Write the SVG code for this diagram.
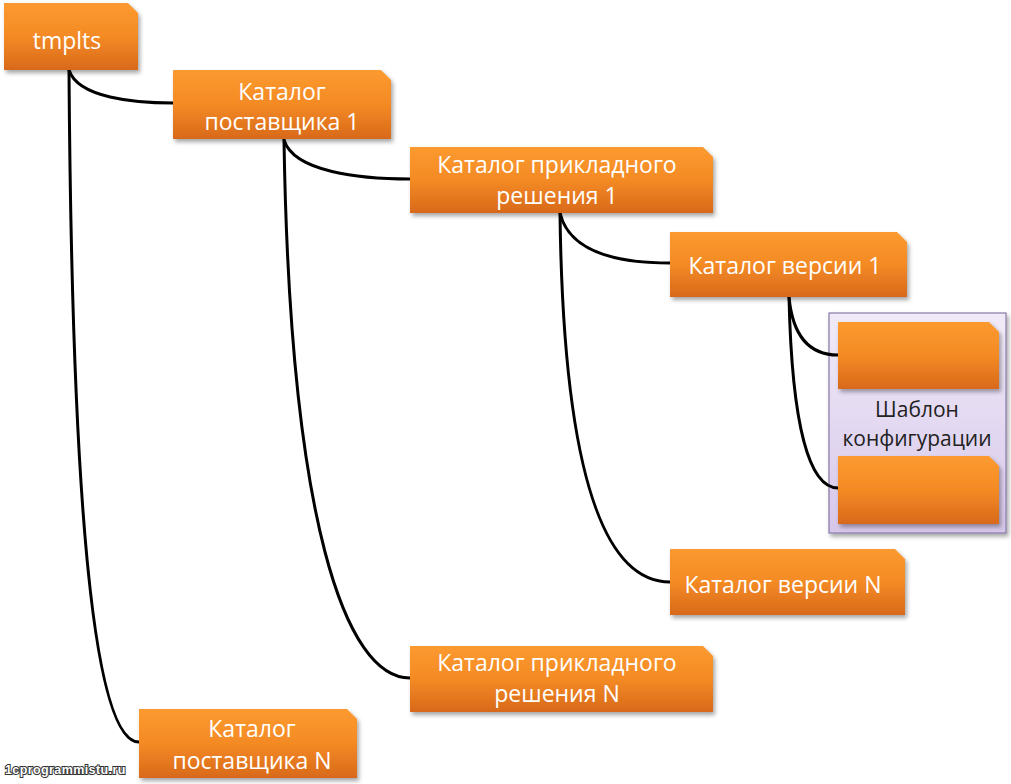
<svg xmlns="http://www.w3.org/2000/svg" width="1011" height="784" viewBox="0 0 1011 784">
<defs>
<linearGradient id="og" x1="0" y1="0" x2="0" y2="1">
<stop offset="0" stop-color="#FC9A30"/>
<stop offset="0.5" stop-color="#F48A24"/>
<stop offset="1" stop-color="#D8691B"/>
</linearGradient>
<linearGradient id="pg" x1="0" y1="0" x2="0" y2="1">
<stop offset="0" stop-color="#F1EBF8"/>
<stop offset="1" stop-color="#D6C7EA"/>
</linearGradient>
<filter id="sh" x="-10%" y="-10%" width="130%" height="140%">
<feDropShadow dx="2" dy="3" stdDeviation="2" flood-color="#000" flood-opacity="0.35"/>
</filter>
</defs>
<style>
.n{fill:url(#og);filter:url(#sh)}
.t{font-family:"Open Sans","Liberation Sans",sans-serif;font-size:23px;fill:#fff;text-anchor:middle}
.d{font-family:"Open Sans","Liberation Sans",sans-serif;font-size:21px;fill:#222;text-anchor:middle}
.c path{fill:none;stroke:#000;stroke-width:3;stroke-linecap:round}
.w{font-family:"Liberation Sans",sans-serif;font-size:12.5px;font-weight:bold;fill:#fff;stroke:#333;stroke-width:2;paint-order:stroke;letter-spacing:0.4px}
</style>
<rect width="1011" height="784" fill="#fff"/>
<g id="template-box">
<rect x="829" y="313" width="177" height="220" fill="url(#pg)" stroke="#8878A8" stroke-width="1.2" filter="url(#sh)"/>
<text x="917" y="417" class="d">Шаблон</text>
<text x="917" y="446" class="d">конфигурации</text>
</g>
<g class="c" id="connectors">
<path d="M69,70 C78,98 135,103 173,103"/>
<path d="M69,70 C72,520 95,742 139,742"/>
<path d="M284,140 C294,172 360,179 410,179"/>
<path d="M284,140 C290,520 345,678 410,678"/>
<path d="M560,213 C570,255 625,263 670,263"/>
<path d="M560,213 C563,460 600,582 670,582"/>
<path d="M789,297 C793,340 812,355 838,355"/>
<path d="M789,297 C792,430 810,488 838,488"/>
</g>
<g id="tmplts">
<path class="n" d="M4,3 H128 L138,13 V70 H4 Z"/>
<text x="67" y="49" class="t">tmplts</text>
</g>
<g id="vendor1">
<path class="n" d="M173,70 H381 L391,80 V139 H173 Z"/>
<text x="282" y="100" class="t">Каталог</text>
<text x="282" y="130" class="t">поставщика 1</text>
</g>
<g id="solution1">
<path class="n" d="M410,147 H703 L713,157 V213 H410 Z"/>
<text x="557" y="173" class="t">Каталог прикладного</text>
<text x="557" y="204" class="t">решения 1</text>
</g>
<g id="version1">
<path class="n" d="M670,232 H897 L907,242 V297 H670 Z"/>
<text x="785" y="274" class="t">Каталог версии 1</text>
</g>
<g id="tpl1">
<path class="n" d="M838,322 H989 L999,332 V389 H838 Z"/>
</g>
<g id="tpl2">
<path class="n" d="M838,456 H989 L999,466 V524 H838 Z"/>
</g>
<g id="versionN">
<path class="n" d="M670,549 H895 L905,559 V615 H670 Z"/>
<text x="783" y="593" class="t">Каталог версии N</text>
</g>
<g id="solutionN">
<path class="n" d="M410,646 H703 L713,656 V712 H410 Z"/>
<text x="557" y="671" class="t">Каталог прикладного</text>
<text x="557" y="702" class="t">решения N</text>
</g>
<g id="vendorN">
<path class="n" d="M139,709 H347 L357,719 V778 H139 Z"/>
<text x="252" y="737" class="t">Каталог</text>
<text x="252" y="769" class="t">поставщика N</text>
</g>
<text x="5" y="774" class="w">1cprogrammistu.ru</text>
</svg>
